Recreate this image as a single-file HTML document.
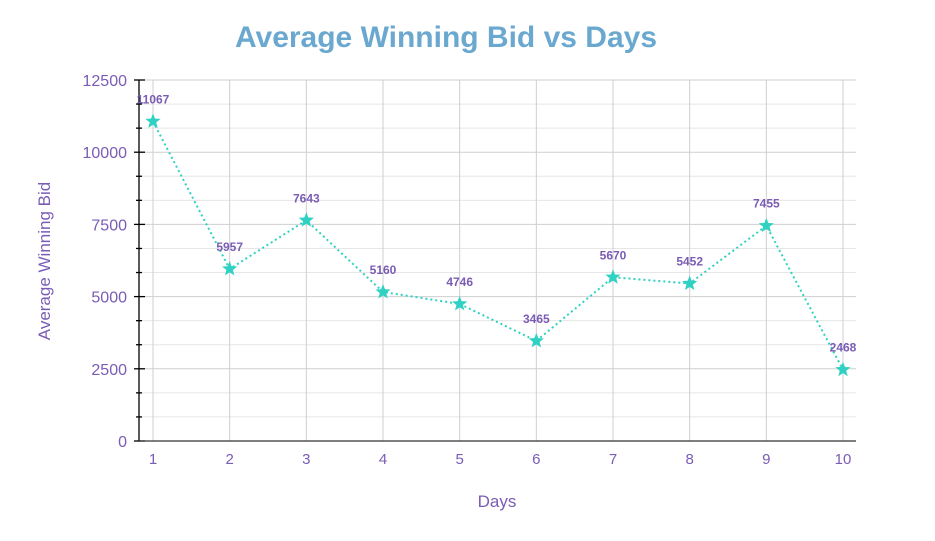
<!DOCTYPE html>
<html><head><meta charset="utf-8"><style>body{margin:0;background:#fff}svg{display:block}text{font-family:"Liberation Sans",sans-serif}</style></head>
<body>
<svg width="935" height="541" viewBox="0 0 935 541" xmlns="http://www.w3.org/2000/svg">
<text x="446" y="47" text-anchor="middle" font-size="30" font-weight="bold" fill="#6aa8cf">Average Winning Bid vs Days</text>
<g id="grid"></g>
<g id="ax"></g>
<text x="497" y="507" text-anchor="middle" font-size="17" fill="#7a5cb5">Days</text>
<text transform="translate(50,261) rotate(-90)" text-anchor="middle" font-size="17" fill="#7a5cb5">Average Winning Bid</text>
<script>
var ns="http://www.w3.org/2000/svg",g=document.getElementById('grid'),a=document.getElementById('ax');
function el(p,t,at,tx){var e=document.createElementNS(ns,t);for(var k in at)e.setAttribute(k,at[k]);if(tx!=null)e.textContent=tx;p.appendChild(e);return e;}
function Y(v){return 441-v*361/12500;}function X(i){return 153+(i-1)*690/9;}
for(var k=0;k<=15;k++){var v=k*12500/15,y=Y(v),maj=k%3==0;
el(g,'line',{x1:139,x2:856,y1:y,y2:y,stroke:maj?'#cfcfcf':'#e6e6e6','stroke-width':1});
el(a,'line',{x1:maj?134:136,x2:maj?145:142,y1:y,y2:y,stroke:'#000','stroke-width':1.3});
if(maj)el(a,'text',{x:127,y:y+6,'text-anchor':'end','font-size':16,fill:'#7a5cb5'},Math.round(v));}
for(var i=1;i<=10;i++){var x=X(i);el(g,'line',{x1:x,x2:x,y1:80,y2:441,stroke:'#cfcfcf','stroke-width':1});
el(a,'text',{x:x,y:464,'text-anchor':'middle','font-size':15,fill:'#7a5cb5'},i);}
el(a,'line',{x1:139,x2:139,y1:80,y2:441,stroke:'#000','stroke-width':1.3});
el(a,'line',{x1:139,x2:856,y1:441,y2:441,stroke:'#333','stroke-width':1.3});
var d=[11067,5957,7643,5160,4746,3465,5670,5452,7455,2468],pts=d.map(function(v,i){return X(i+1)+','+Y(v)}).join(' ');
el(a,'polyline',{points:pts,fill:'none',stroke:'#2fd1c2','stroke-width':2,'stroke-dasharray':'2,3'});
d.forEach(function(v,i){var cx=X(i+1),cy=Y(v),p=[];for(var j=0;j<10;j++){var r=j%2?3.4:8,t=-Math.PI/2+j*Math.PI/5;p.push((cx+r*Math.cos(t))+','+(cy+r*Math.sin(t)));}
el(a,'polygon',{points:p.join(' '),fill:'#2fd1c2'});
el(a,'text',{x:cx,y:cy-18,'text-anchor':'middle','font-size':12,'font-weight':'bold',fill:'#7a5cb5'},v);});
</script>
</svg>
</body></html>
